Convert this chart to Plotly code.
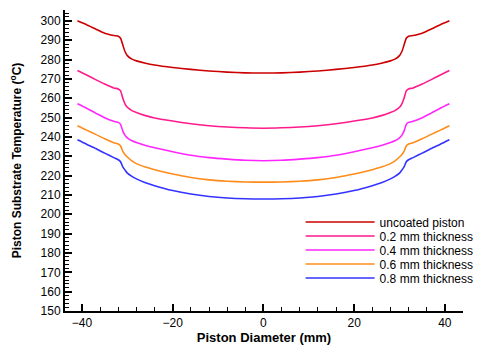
import plotly.graph_objects as go

diameter = [-41, -39, -37, -35, -33, -32, -31.5, -31, -30.5, -30, -29, -28, -26, -24, -20, -16, -12, -8, -4, 0,
            4, 8, 12, 16, 20, 24, 26, 28, 29, 30, 30.5, 31, 31.5, 32, 33, 35, 37, 39, 41]

uncoated = [300, 298, 295.8, 293.6, 292.4, 292, 291, 287.5, 284, 282, 280.2, 279.3, 278.1, 277.2, 275.9, 274.9, 274.1, 273.5, 273.1, 273,
            273.1, 273.5, 274.1, 274.9, 275.9, 277.2, 278.1, 279.3, 280.2, 282, 284, 287.5, 291, 292, 292.4, 293.6, 295.8, 298, 300]

t02 = [274.3, 272, 269.6, 267.3, 265.3, 264.8, 263.8, 260, 257, 255.3, 253.6, 252.6, 251, 249.8, 248.2, 246.8, 245.8, 245.1, 244.7, 244.5,
       244.7, 245.1, 245.8, 246.8, 248.2, 249.8, 251, 252.6, 253.6, 255.3, 257, 260, 263.8, 264.8, 265.3, 267.3, 269.6, 272, 274.3]

t04 = [257.1, 254.8, 252.3, 249.9, 248.1, 247.5, 246.5, 243, 240.8, 239.5, 238, 237.1, 235.6, 234.4, 232.3, 230.5, 229.3, 228.5, 227.9, 227.7,
       227.9, 228.5, 229.3, 230.5, 232.3, 234.4, 235.6, 237.1, 238, 239.5, 240.8, 243, 246.5, 247.5, 248.1, 249.9, 252.3, 254.8, 257.1]

t06 = [245.8, 243.5, 241.3, 239, 237, 236.3, 235.3, 232.5, 230.8, 229.6, 227.6, 226.2, 224.4, 223, 220.8, 219, 217.8, 217.1, 216.7, 216.6,
       216.7, 217.1, 217.8, 219, 220.8, 223, 224.4, 226.2, 227.6, 229.6, 230.8, 232.5, 235.3, 236.3, 237, 239, 241.3, 243.5, 245.8]

t08 = [238.5, 236.2, 234, 231.6, 229.3, 228.2, 227.2, 224.5, 222.8, 221.3, 219.6, 218.3, 216.3, 214.8, 212.3, 210.5, 209.2, 208.4, 208, 207.9,
       208, 208.4, 209.2, 210.5, 212.3, 214.8, 216.3, 218.3, 219.6, 221.3, 222.8, 224.5, 227.2, 228.2, 229.3, 231.6, 234, 236.2, 238.5]

series_names = ["uncoated piston", "0.2 mm thickness", "0.4 mm thickness", "0.6 mm thickness", "0.8 mm thickness"]
series_values = [uncoated, t02, t04, t06, t08]
series_colors = ["#CC0000", "#FF1A8C", "#FF26FF", "#FF8C1A", "#3333FF"]

x_tick_vals = [-40, -20, 0, 20, 40]
y_tick_vals = list(range(150, 301, 10))

# one small legend per entry so the rows can sit as tightly as in the original
legend_ids = ["legend", "legend2", "legend3", "legend4", "legend5"]
legend_rows_y = [0.2957, 0.2492, 0.2027, 0.1561, 0.1096]

fig = go.Figure()
for name, vals, col, lg in zip(series_names, series_values, series_colors, legend_ids):
    fig.add_trace(go.Scatter(x=diameter, y=vals, mode="lines", name=name, legend=lg,
                             line=dict(color=col, width=1.6, shape="spline", smoothing=0.6)))

font_family = "Liberation Sans, Arial, sans-serif"
legend_layout = {}
for lg, ly in zip(legend_ids, legend_rows_y):
    legend_layout[lg] = dict(x=0.592, y=ly, xanchor="left", yanchor="middle", bgcolor="rgba(0,0,0,0)",
                             font=dict(size=12, color="black"), itemwidth=69, borderwidth=0)

# the page body adds an 8px margin, so the figure is 8px smaller than the window
fig.update_layout(
    width=484, height=337,
    margin=dict(l=57, r=29, t=2, b=34),
    plot_bgcolor="white", paper_bgcolor="white",
    font=dict(family=font_family, size=12, color="black"),
    showlegend=True,
    **legend_layout,
)
fig.update_xaxes(
    range=[-43.75, 44], tickvals=x_tick_vals, ticks="inside", ticklen=7, tickwidth=1.5, tickcolor="black",
    showline=True, linecolor="black", linewidth=2, showgrid=False, zeroline=False, automargin=False,
    minor=dict(dtick=4, ticks="inside", ticklen=4, tickwidth=1, tickcolor="black"),
    title=dict(text="<b>Piston Diameter (mm)</b>", font=dict(size=13), standoff=0),
    tickfont=dict(size=12),
)
fig.update_yaxes(
    range=[150, 305.6], tickvals=y_tick_vals, ticks="inside", ticklen=7, tickwidth=1.5, tickcolor="black",
    showline=True, linecolor="black", linewidth=2, showgrid=False, zeroline=False, automargin=False,
    minor=dict(dtick=2, ticks="inside", ticklen=4, tickwidth=1, tickcolor="black"),
    title=dict(text="<b>Piston Substrate Temperature (<sup>o</sup>C)</b>", font=dict(size=12), standoff=16),
    tickfont=dict(size=12),
)

fig.write_html("out.html")
